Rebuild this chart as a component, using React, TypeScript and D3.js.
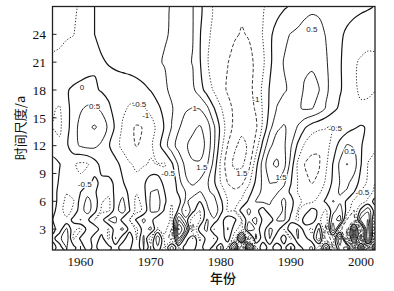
import React from 'react';
import * as d3 from 'd3';

// ---- data: real part of wavelet coefficients, one array per time scale (years 1956..2002) ----
const FIRST_YEAR = 1956;
const LAST_YEAR = 2002;
const rowScales = [1, 2, 3, 4, 5, 6, 7, 8, 10, 12, 14, 16, 18, 21, 24, 27];

const s27 = [
  -0.8, -0.72, -0.65, -0.56, -0.45, -0.25, 0.0, 0.08, 0.15, 0.22,
  0.28, 0.33, 0.38, 0.42, 0.45, 0.47, 0.48, 0.51, 0.55, 0.56,
  0.52, 0.15, -0.3, -0.55, -0.7, -0.82, -0.9, -0.95, -0.97, -0.85,
  -0.55, -0.35, -0.2, -0.06, 0.05, 0.2, 0.35, 0.42, 0.42, 0.38,
  0.32, 0.26, 0.2, 0.15, 0.1, 0.05, -0.02,
];
const s24 = [
  -0.6, -0.58, -0.54, -0.51, -0.35, -0.15, 0.0, 0.08, 0.15, 0.21,
  0.27, 0.32, 0.36, 0.4, 0.43, 0.46, 0.48, 0.52, 0.56, 0.58,
  0.52, 0.05, -0.4, -0.6, -0.75, -0.88, -0.97, -1.02, -0.98, -0.8,
  -0.48, -0.1, 0.2, 0.4, 0.52, 0.6, 0.68, 0.7, 0.62, 0.48,
  0.3, 0.08, -0.08, -0.2, -0.3, -0.35, -0.38,
];
const s21 = [
  -0.45, -0.42, -0.35, -0.28, -0.2, -0.14, -0.08, -0.03, 0.02, 0.1,
  0.2, 0.27, 0.33, 0.38, 0.43, 0.47, 0.52, 0.57, 0.61, 0.6,
  0.48, 0.05, -0.45, -0.7, -0.85, -0.99, -1.1, -1.12, -1.08, -0.95,
  -0.6, -0.1, 0.3, 0.52, 0.65, 0.8, 0.92, 0.95, 0.85, 0.55,
  0.3, 0.05, -0.2, -0.45, -0.55, -0.6, -0.58,
];
const s18 = [
  -0.35, -0.2, -0.03, 0.06, 0.1, 0.12, 0.08, -0.05, -0.15, -0.25,
  -0.33, -0.33, -0.25, -0.12, 0.02, 0.2, 0.42, 0.6, 0.7, 0.72,
  0.6, 0.25, -0.2, -0.55, -0.85, -1.05, -1.2, -1.25, -1.15, -0.85,
  -0.4, 0.05, 0.35, 0.45, 0.58, 0.85, 1.05, 1.1, 1.02, 0.6,
  0.3, 0.05, -0.2, -0.45, -0.55, -0.58, -0.52,
];
const s16 = [
  -0.45, -0.55, -0.15, 0.2, 0.45, 0.58, 0.58, 0.4, 0.1, -0.2,
  -0.42, -0.55, -0.6, -0.55, -0.35, -0.1, 0.15, 0.45, 0.75, 0.95,
  1.02, 0.98, 0.65, 0.05, -0.45, -0.85, -1.1, -1.25, -1.2, -0.95,
  -0.45, 0.1, 0.52, 0.7, 0.8, 0.95, 1.05, 1.02, 0.8, 0.45,
  0.15, -0.1, -0.3, -0.45, -0.45, -0.4, -0.35,
];
const s14 = [
  -0.52, -0.6, -0.2, 0.3, 0.65, 0.92, 1.05, 0.85, 0.4, -0.1,
  -0.55, -0.9, -1.05, -0.98, -0.75, -0.35, 0.05, 0.52, 0.95, 1.2,
  1.4, 1.55, 1.3, 0.6, -0.15, -0.75, -1.15, -1.4, -1.45, -1.1,
  -0.4, 0.35, 0.9, 1.05, 0.85, 0.45, 0.05, -0.25, -0.4, -0.48,
  -0.55, -0.45, -0.25, -0.05, 0.05, -0.05, -0.15,
];
const s12 = [
  -0.3, -0.4, -0.1, 0.35, 0.55, 0.65, 0.6, 0.4, 0.05, -0.3,
  -0.65, -0.9, -1.02, -0.9, -0.6, -0.2, 0.3, 0.8, 1.2, 1.45,
  1.65, 1.7, 1.4, 0.6, -0.3, -1.02, -1.45, -1.6, -1.45, -0.8,
  0.15, 0.9, 1.25, 1.1, 0.55, -0.1, -0.6, -0.9, -0.95, -0.7,
  -0.3, 0.2, 0.55, 0.45, 0.05, -0.3, -0.45,
];
const s10 = [
  0.2, 0.02, -0.25, -0.45, -0.6, -0.55, -0.2, 0.15, 0.3, 0.15,
  -0.15, -0.45, -0.6, -0.55, -0.45, -0.52, -0.55, -0.1, 0.6, 1.15,
  1.45, 1.45, 1.1, 0.35, -0.6, -1.3, -1.6, -1.6, -1.2, -0.2,
  0.7, 1.4, 1.6, 1.2, 0.3, -0.6, -1.02, -1.1, -1.05, -0.6,
  0.02, 0.6, 1.02, 0.75, 0.02, -0.52, -0.6,
];
const s8 = [
  0.2, -0.05, -0.3, -0.45, -0.4, -0.1, 0.1, -0.1, -0.15, 0.1,
  0.05, -0.25, -0.35, -0.1, 0.3, 0.35, -0.2, -0.45, 0.3, 0.9,
  1.1, 0.9, 0.6, 0.1, -0.52, -1.02, -1.2, -1.1, -0.6, 0.1,
  0.6, 1.02, 0.98, 0.6, 0.02, -0.52, -0.9, -1.02, -0.9, -0.4,
  0.1, 0.52, 0.6, 0.3, -0.2, -0.6, -0.52,
];
const s7 = [
  0.25, -0.15, -0.45, -0.4, 0.0, 0.35, 0.1, -0.35, -0.35, 0.15,
  0.3, -0.15, -0.45, -0.15, 0.5, 0.55, 0.0, -0.35, 0.1, 0.52,
  0.7, 0.48, 0.6, 0.4, -0.2, -0.7, -0.9, -0.7, -0.2, 0.3,
  0.6, 0.7, 0.55, 0.3, -0.1, -0.52, -0.75, -0.8, -0.6, -0.2,
  0.3, 0.55, 0.45, 0.02, -0.55, -0.7, -0.4,
];
const s6 = [
  0.3, -0.2, -0.65, -0.52, 0.2, 0.65, 0.3, -0.45, -0.65, 0.2,
  0.65, -0.1, -0.65, -0.3, 0.6, 0.7, 0.1, -0.45, -0.2, 0.6,
  0.3, 0.02, 0.55, 0.7, 0.1, -0.52, -0.7, -0.4, 0.1, 0.52,
  0.6, 0.55, 0.3, 0.6, 0.2, -0.4, -0.6, -0.6, -0.3, 0.1,
  0.52, 0.4, -0.1, -0.6, -0.8, -0.4, 0.2,
];
const s5 = [
  0.2, -0.3, -0.7, -0.4, 0.3, 0.7, 0.2, -0.6, -0.6, 0.3,
  0.75, 0.02, -0.7, -0.4, 0.55, 0.6, -0.1, -0.6, 0.1, 1.02,
  0.2, -0.52, 0.3, 0.9, 0.2, -0.6, -0.52, 0.2, 0.6, 0.2,
  -0.3, 0.4, 0.1, 0.6, 0.1, -0.52, -0.3, 0.2, -0.1, -0.6,
  0.3, 0.8, -0.2, -1.02, 0.2, 0.9, -0.3,
];
const s4 = [
  0.02, -0.4, -0.4, 0.2, 0.52, 0.1, -0.52, -0.2, 0.52, 0.6,
  -0.2, -0.52, 0.1, 0.6, 0.2, -0.4, -0.2, -0.6, 1.5, 0.3,
  -0.8, -0.6, 0.52, 0.4, -0.3, 0.4, 0.1, -0.52, 0.4, 0.6,
  -0.1, -0.4, 0.52, 0.6, -0.2, -0.6, 0.3, 0.4, -0.4, -0.8,
  0.8, 1.2, -1.02, -1.4, 1.2, 1.52, -1.02,
];
const s3 = [
  0.2, -0.3, 0.6, -0.4, -0.6, 0.2, 0.4, -0.3, -0.52, 0.3,
  0.6, -0.2, -0.6, 0.3, 0.6, -0.52, -0.3, -1.02, 2.6, 1.3,
  -1.3, 0.3, 0.6, -0.52, -0.4, 0.52, -0.3, -0.8, 0.9, 0.4,
  -0.4, 0.6, 0.3, -0.52, 0.4, 0.52, -0.3, -0.6, 0.6, -1.2,
  1.4, -0.8, -1.52, 1.6, -1.4, 1.9, -1.2,
];
const s2 = [
  -0.2, 0.4, 0.8, -0.6, 0.1, 0.4, -0.4, 0.2, -0.6, 0.52,
  -0.3, 0.4, -0.52, 0.6, -0.8, 0.9, -0.7, -1.2, 1.6, -0.4,
  0.52, -0.6, 0.2, 0.52, -0.4, 0.3, -0.9, 1.8, -1.6, 0.6,
  -0.3, 0.52, -0.4, 0.3, -0.6, 0.52, 0.2, -0.4, 1.02, -1.3,
  -0.8, 1.6, -1.8, 1.52, -1.6, 2.0, -1.52,
];
const s1 = [
  0.3, -0.3, 0.52, 0.2, -0.4, 0.3, -0.2, 0.4, 0.2, -0.3,
  0.4, 0.1, -0.4, 0.52, -0.3, 0.4, -0.6, 0.8, -0.52, 0.3,
  0.2, -0.3, 0.4, -0.2, 0.3, -0.52, 1.52, -2.0, 1.8, -0.6,
  0.4, -0.3, 0.4, -0.2, 0.52, -0.4, 0.3, 0.6, -0.8, 1.2,
  -1.02, 0.8, 1.2, -1.52, 1.4, -1.6, 1.2,
];
const rows = [s1, s2, s3, s4, s5, s6, s7, s8, s10, s12, s14, s16, s18, s21, s24, s27];

const levels = [-2.5, -2, -1.5, -1, -0.5, 0, 0.5, 1, 1.5, 2, 2.5];
const xTicks = [1960, 1970, 1980, 1990, 2000];
const yTicks = [3, 6, 9, 12, 15, 18, 21, 24];

const labelYears = [1960.2, 1962, 1968.4, 1969.3, 1976.3, 1977.3, 1985, 1993, 1996.3, 1983, 1988.6, 1972.5, 1960.6, 1998.4, 2000.2];
const labelScales = [18.3, 16.2, 16.5, 15.3, 16.0, 9.7, 17.0, 24.6, 13.9, 9.0, 8.6, 9.0, 7.8, 11.4, 7.0];
const labelTexts = ['0', '0.5', '-0.5', '-1', '1', '1.5', '-1', '0.5', '-0.5', '1.5', '1.5', '-0.5', '-0.5', '0.5', '-0.5'];

export default function App() {
  const W = 394, H = 291;
  const left = 52.5, right = 375, top = 6.5, bottom = 250;
  const x = d3.scaleLinear().domain([FIRST_YEAR, LAST_YEAR]).range([left, right]);
  const y = d3.scaleLinear().domain([0.75, 27]).range([bottom, top]);

  const nx = s1.length;
  const ny = rows.length;
  const values = rows.flat();
  const rowToScale = d3.scaleLinear().domain(d3.range(ny)).range(rowScales);
  const contours = d3.contours().size([nx, ny]).smooth(true).thresholds(levels)(values);

  const toPx = (p: number[]): [number, number] => [
    x(FIRST_YEAR + p[0] - 0.5),
    y(rowToScale(p[1] - 0.5)),
  ];
  const onB = (p: number[]) => p[0] <= 0 || p[0] >= nx || p[1] <= 0 || p[1] >= ny;

  const openLine = d3.line().curve(d3.curveCatmullRom.alpha(0.5));
  const closedLine = d3.line().curve(d3.curveCatmullRomClosed.alpha(0.5));

  const paths: { d: string; v: number }[] = [];
  contours.forEach((c) => {
    const v = c.value;
    c.coordinates.forEach((poly) => {
      poly.forEach((ring) => {
        const pts = ring.slice(0, ring.length - 1);
        const n = pts.length;
        if (n < 3) return;
        let start = -1;
        for (let i = 0; i < n; i++) {
          const a = pts[i], b = pts[(i + 1) % n];
          if (onB(a) && onB(b)) { start = (i + 1) % n; break; }
        }
        if (start < 0) {
          paths.push({ d: closedLine(pts.map(toPx)) || '', v });
          return;
        }
        let run: [number, number][] = [];
        for (let k = 0; k < n; k++) {
          const i = (start + k) % n;
          const a = pts[i], b = pts[(i + 1) % n];
          if (run.length === 0) run.push(toPx(a));
          if (onB(a) && onB(b)) {
            if (run.length > 1) paths.push({ d: openLine(run) || '', v });
            run = [];
          } else {
            run.push(toPx(b));
          }
        }
        if (run.length > 1) paths.push({ d: openLine(run) || '', v });
      });
    });
  });

  const dashFor = (v: number) =>
    v >= 0 ? undefined : v === -0.5 ? '1.3,1.7' : v === -1 ? '3.5,2' : v === -1.5 ? '2.5,1.5,1,1.5' : '2,1.5';
  const widthFor = (v: number) => (v === 0 ? 1.2 : v > 0 ? 0.95 : 0.85);

  const serif = '"Liberation Serif", "DejaVu Serif", serif';
  const cjk = '"Noto Sans CJK SC", "Noto Sans CJK JP", sans-serif';

  return (
    <svg width={W} height={H} style={{ position: 'absolute', left: 0, top: 0, background: '#fff' }}>
      <defs>
        <clipPath id="plotclip">
          <rect x={left} y={top} width={right - left} height={bottom - top} />
        </clipPath>
      </defs>
      <rect x={0} y={0} width={W} height={H} fill="#fff" />
      <g clipPath="url(#plotclip)" fill="none" stroke="#161616" strokeLinejoin="round">
        {paths.map((p, i) => (
          <path key={i} d={p.d} strokeWidth={widthFor(p.v)} strokeDasharray={dashFor(p.v)} />
        ))}
      </g>
      <g clipPath="url(#plotclip)">
        {labelTexts.map((t, i) => (
          <text
            key={i}
            x={x(labelYears[i])}
            y={y(labelScales[i])}
            dy="0.35em"
            textAnchor="middle"
            fontSize={8}
            fontFamily='"Liberation Sans", Arial, sans-serif'
            fill="#222"
            stroke="#fff"
            strokeWidth={2.5}
            paintOrder="stroke"
          >
            {t}
          </text>
        ))}
      </g>
      <rect x={left} y={top} width={right - left} height={bottom - top} fill="none" stroke="#222" strokeWidth={1.3} />
      {xTicks.map((t) => (
        <g key={t}>
          <line x1={x(t)} x2={x(t)} y1={bottom} y2={bottom - 4} stroke="#222" strokeWidth={1} />
          <text x={x(t)} y={266} textAnchor="middle" fontSize={13} fontFamily={serif} fill="#111">
            {t}
          </text>
        </g>
      ))}
      {yTicks.map((t) => (
        <g key={t}>
          <line x1={left} x2={left + 4} y1={y(t)} y2={y(t)} stroke="#222" strokeWidth={1} />
          <text x={46} y={y(t)} dy="0.35em" textAnchor="end" fontSize={13.5} fontFamily={serif} fill="#111">
            {t}
          </text>
        </g>
      ))}
      <text x={223} y={283} textAnchor="middle" fontSize={13} fontWeight={500} fontFamily={cjk} fill="#111">
        年份
      </text>
      <text
        transform="translate(20,128) rotate(-90)"
        textAnchor="middle"
        dy="0.35em"
        fontSize={13}
        fontFamily={cjk}
        fill="#111"
      >
        时间尺度/a
      </text>
    </svg>
  );
}
